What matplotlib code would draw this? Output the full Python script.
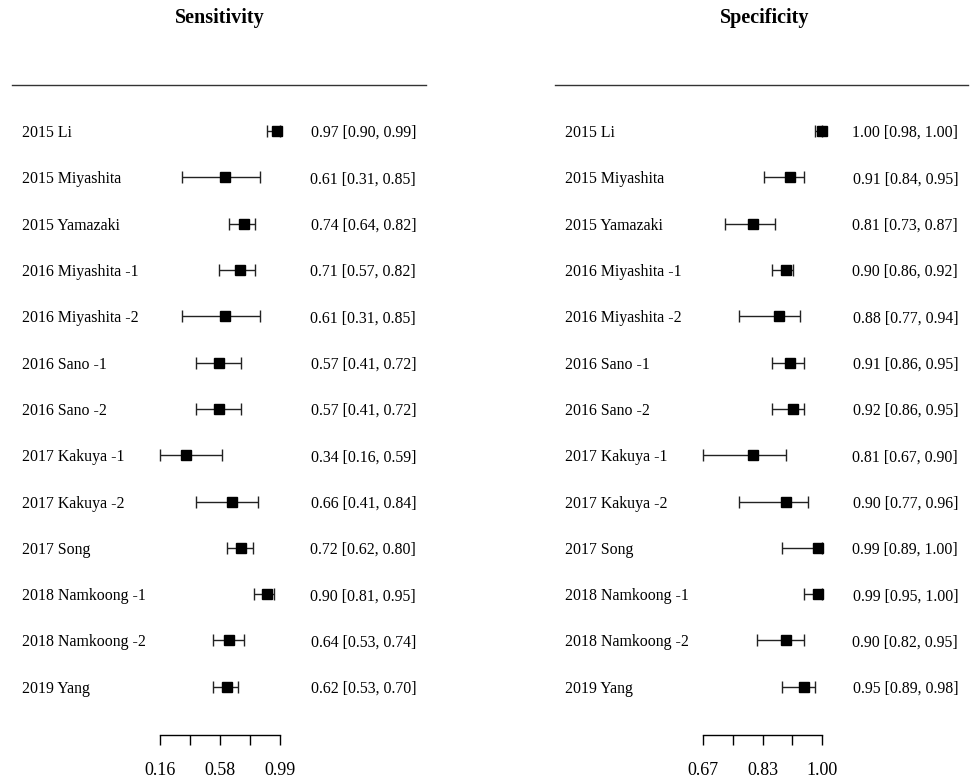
import matplotlib.pyplot as plt
import numpy as np
from matplotlib.lines import Line2D
from matplotlib.transforms import blended_transform_factory

studies = ["2015 Li", "2015 Miyashita", "2015 Yamazaki", "2016 Miyashita -1",
           "2016 Miyashita -2", "2016 Sano -1", "2016 Sano -2", "2017 Kakuya -1",
           "2017 Kakuya -2", "2017 Song", "2018 Namkoong -1", "2018 Namkoong -2",
           "2019 Yang"]

sens = [0.97, 0.61, 0.74, 0.71, 0.61, 0.57, 0.57, 0.34, 0.66, 0.72, 0.90, 0.64, 0.62]
sens_lo = [0.90, 0.31, 0.64, 0.57, 0.31, 0.41, 0.41, 0.16, 0.41, 0.62, 0.81, 0.53, 0.53]
sens_hi = [0.99, 0.85, 0.82, 0.82, 0.85, 0.72, 0.72, 0.59, 0.84, 0.80, 0.95, 0.74, 0.70]

spec = [1.00, 0.91, 0.81, 0.90, 0.88, 0.91, 0.92, 0.81, 0.90, 0.99, 0.99, 0.90, 0.95]
spec_lo = [0.98, 0.84, 0.73, 0.86, 0.77, 0.86, 0.86, 0.67, 0.77, 0.89, 0.95, 0.82, 0.89]
spec_hi = [1.00, 0.95, 0.87, 0.92, 0.94, 0.95, 0.95, 0.90, 0.96, 1.00, 1.00, 0.95, 0.98]

sens_ticklabels = ["0.16", "", "0.58", "", "0.99"]
spec_ticklabels = ["0.67", "", "0.83", "", "1.00"]

plt.rcParams["font.family"] = "Liberation Serif"
plt.rcParams["font.size"] = 11.4

W, H = 972, 778
fig = plt.figure(figsize=(W / 100, H / 100), dpi=100)


def px(x, y):
    return x / W, 1 - y / H


def panel(title, est, lo, hi, ticklabels, ax_x0, ax_x1, line_x0, line_x1, lab_x, val_x, title_x):
    # axes spans the plotted range horizontally, rule line to bottom axis vertically
    x0, y_top = px(ax_x0, 85)
    x1, y_bot = px(ax_x1, 735)
    ax = fig.add_axes([x0, y_bot, x1 - x0, y_top - y_bot])
    n = len(est)
    rows = np.arange(n)
    ax.set_xlim(min(lo), max(hi))
    ax.set_ylim(13.04, -0.99)

    ax.hlines(rows, lo, hi, color="#222222", lw=1.0, clip_on=False)
    ax.plot(lo, rows, "|", color="#222222", ms=8, mew=1.0, clip_on=False)
    ax.plot(hi, rows, "|", color="#222222", ms=8, mew=1.0, clip_on=False)
    ax.plot(est, rows, "s", color="black", ms=6.8, clip_on=False)

    for s in ["top", "left", "right"]:
        ax.spines[s].set_visible(False)
    ax.spines["bottom"].set_linewidth(1.0)
    ax.set_yticks([])
    ax.set_xticks(np.linspace(min(lo), max(hi), 5))
    ax.set_xticklabels(ticklabels)
    ax.tick_params(axis="x", direction="out", length=7.5, width=1.0, pad=12, labelsize=13)

    tr = blended_transform_factory(fig.transFigure, ax.transData)
    for i, name in enumerate(studies):
        ax.text(lab_x / W, i, name, transform=tr, ha="left", va="center_baseline", clip_on=False)
        ax.text(val_x / W, i, f"{est[i]:.2f} [{lo[i]:.2f}, {hi[i]:.2f}]", transform=tr,
                ha="right", va="center_baseline", clip_on=False)

    lx0, ly = px(line_x0, 85)
    lx1, _ = px(line_x1, 85)
    fig.add_artist(Line2D([lx0, lx1], [ly, ly], color="#333333", lw=1.0))
    tx, ty = px(title_x, 18)
    fig.text(tx, ty, title, ha="center", va="center", fontsize=14.5, fontweight="bold")


panel("Sensitivity", sens, sens_lo, sens_hi, sens_ticklabels, 160, 280, 12, 426, 22, 416, 220)
panel("Specificity", spec, spec_lo, spec_hi, spec_ticklabels, 703, 822, 555, 968, 565, 958, 765)

fig.savefig("out.png", dpi=100)
